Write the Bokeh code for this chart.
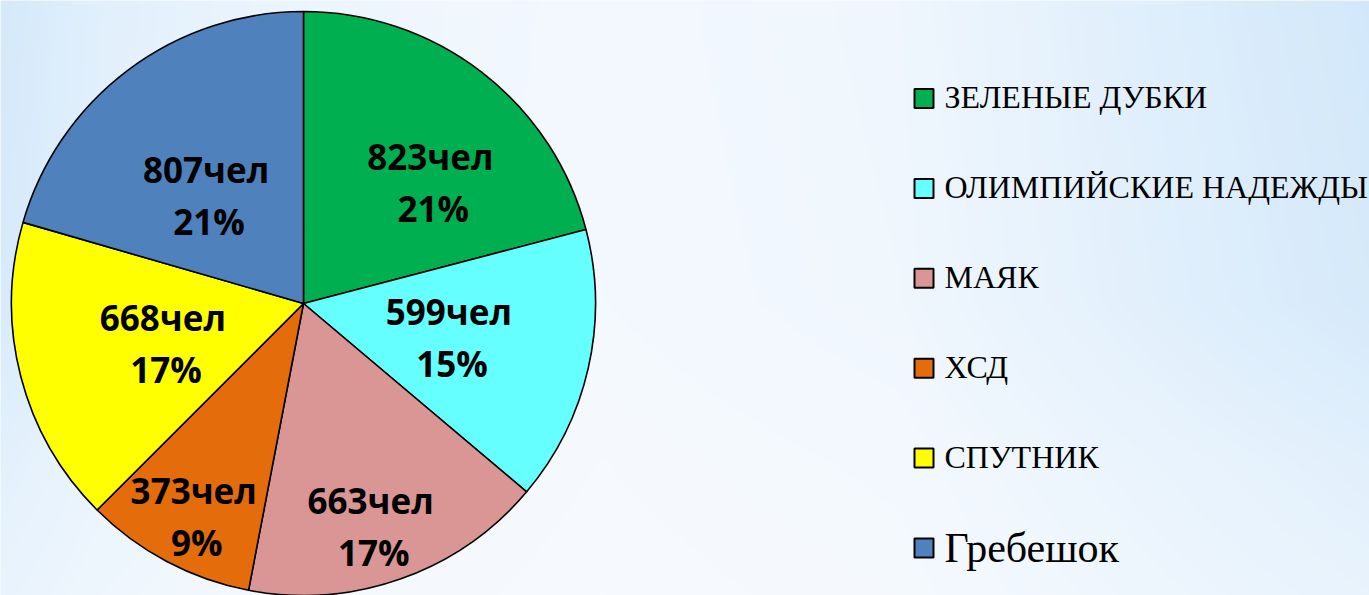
import numpy as np
from bokeh.plotting import figure
from bokeh.models import Range1d, ColumnDataSource
from bokeh.core.properties import value
from bokeh.embed import file_html
from bokeh.resources import INLINE

# ---- data ----
categories = ["ЗЕЛЕНЫЕ ДУБКИ", "ОЛИМПИЙСКИЕ НАДЕЖДЫ", "МАЯК", "ХСД", "СПУТНИК", "Гребешок"]
people = [823, 599, 663, 373, 668, 807]
colors = ["#00b050", "#66ffff", "#d99694", "#e46c0a", "#ffff00", "#4f81bd"]

# ---- style / layout ----
W, H = 1369, 595
CX, CY, R = 303, 303, 292            # pie centre / radius in screen px
lab_rfrac = [0.570, 0.524, 0.840, 0.860, 0.515, 0.465]
lab_dang = [-12.0, -5.35, -3.6, 2.0, 6.4, 8.9]
leg_size = [32, 32, 32, 32, 32, 42]
LAB_SIZE = 35
BASE_FIX = 0.38   # empirical baseline correction (em)

p = figure(width=W, height=H, output_backend="svg", toolbar_location=None,
           x_range=Range1d(0, W), y_range=Range1d(-H, 0),
           min_border=0)
p.axis.visible = False
p.grid.visible = False
p.outline_line_color = None
p.background_fill_color = "#f3f8fe"
p.border_fill_color = "#f3f8fe"

# background gradient
xs = np.arange(W)
ys = np.arange(H)
bx = np.interp(xs, [0, 100, 300, 600, 900, 1150, 1369], [0.85, 0.55, 0.3, 0.15, 0.25, 0.6, 0.9])
fy = np.interp(ys, [0, 300, 460, 595], [1.0, 0.9, 0.6, 0.45])
b = np.clip(bx[None, :] * fy[:, None], 0, 1)
white = np.array([250, 252, 255.0])
blue = np.array([206, 230, 250.0])
rgb = white[None, None, :] * (1 - b[..., None]) + blue[None, None, :] * b[..., None]
img = np.empty((H, W), dtype=np.uint32)
view = img.view(dtype=np.uint8).reshape((H, W, 4))
view[..., 0] = rgb[..., 0].astype(np.uint8)
view[..., 1] = rgb[..., 1].astype(np.uint8)
view[..., 2] = rgb[..., 2].astype(np.uint8)
view[..., 3] = 255
img = img[::-1]  # image rows start at bottom
p.image_rgba(image=[img], x=0, y=-H, dw=W, dh=H)

# pie
vals = np.array(people, dtype=float)
total = vals.sum()
frac = vals / total
cum = np.concatenate([[0], np.cumsum(frac)])
start = np.radians(90 - 360 * cum[:-1])
end = np.radians(90 - 360 * cum[1:])
src = ColumnDataSource(dict(start=start, end=end, color=colors))
p.wedge(x=CX, y=-CY, radius=R, start_angle="start", end_angle="end", direction="clock",
        fill_color="color", line_color="black", line_width=1.6, source=src)

# labels
mid = 90 - 360 * (cum[:-1] + cum[1:]) / 2
ang = np.radians(mid + np.array(lab_dang))
lr = R * np.array(lab_rfrac)
lx = CX + lr * np.cos(ang)
ly = -CY + lr * np.sin(ang)
fix = BASE_FIX * LAB_SIZE
count_txt = [f"{v}чел" for v in people]
pct_txt = [f"{round(100 * v / total)}%" for v in people]
p.text(x=lx, y=ly + 26 + fix, text=count_txt, text_align="center", text_baseline="alphabetic",
       text_font=value("Open Sans"), text_font_style="bold", text_font_size=f"{LAB_SIZE}px",
       text_color="black")
p.text(x=lx + 3, y=ly - 26 + fix, text=pct_txt, text_align="center", text_baseline="alphabetic",
       text_font=value("Open Sans"), text_font_style="bold", text_font_size=f"{LAB_SIZE}px",
       text_color="black")

# legend
n = len(categories)
leg_y = -(98 + 89.9 * np.arange(n))
p.rect(x=[923.5] * n, y=leg_y, width=19, height=19, fill_color=colors,
       line_color="black", line_width=2)
base_off = [11, 11, 11, 11, 11, 16]
for i in range(n):
    p.text(x=[944], y=[leg_y[i] - base_off[i] + BASE_FIX * leg_size[i]], text=[categories[i]],
           text_align="left", text_baseline="alphabetic", text_font=value("Liberation Serif"),
           text_font_size=f"{leg_size[i]}px", text_color="black")

open("out.html", "w").write(file_html(p, INLINE))
